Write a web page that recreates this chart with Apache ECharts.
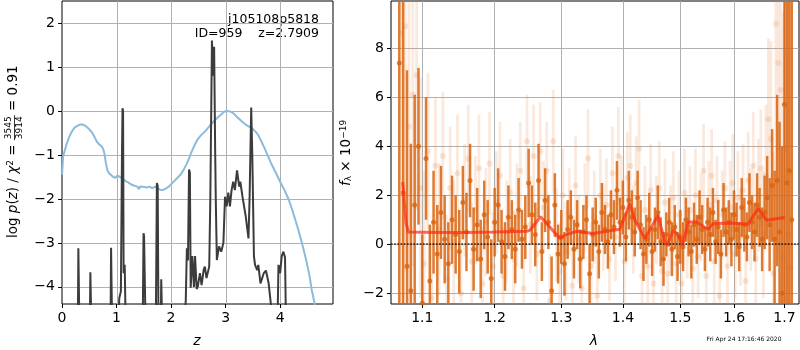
<!DOCTYPE html>
<html>
<head>
<meta charset="utf-8">
<script src="https://cdn.jsdelivr.net/npm/echarts@6/dist/echarts.min.js"></script>
<style>
  html, body { margin: 0; padding: 0; background: #fff; }
  #chart { width: 800px; height: 350px; }
</style>
</head>
<body>
<div id="chart"></div>
<script>
// ---- left panel: p(z) (blue) and chi2 (dark) ----
const pzZ = [0.0, 0.02, 0.05, 0.09, 0.14, 0.18, 0.23, 0.28, 0.33, 0.37, 0.42, 0.46, 0.51, 0.55, 0.6, 0.64,
  0.69, 0.73, 0.76, 0.78, 0.8, 0.83, 0.86, 0.89, 0.94, 0.98, 1.02, 1.05, 1.1, 1.16, 1.22, 1.28, 1.33, 1.38,
  1.41, 1.43, 1.46, 1.51, 1.56, 1.61, 1.65, 1.68, 1.71, 1.76, 1.8, 1.84, 1.9, 1.96, 2.03, 2.11, 2.18, 2.23,
  2.28, 2.32, 2.37, 2.42, 2.48, 2.55, 2.62, 2.69, 2.75, 2.81, 2.87, 2.93, 2.97, 3.02, 3.08, 3.14, 3.22, 3.3,
  3.39, 3.48, 3.55, 3.6, 3.66, 3.73, 3.79, 3.85, 3.92, 4.0, 4.08, 4.16, 4.22, 4.28, 4.34, 4.4, 4.45, 4.49,
  4.54, 4.58, 4.63, 4.66];
const pzLog = [-1.45, -1.05, -0.9, -0.73, -0.57, -0.47, -0.38, -0.34, -0.31, -0.31, -0.33, -0.37, -0.43, -0.49,
  -0.6, -0.7, -0.77, -0.81, -0.88, -0.98, -1.15, -1.34, -1.41, -1.45, -1.5, -1.52, -1.47, -1.45, -1.53, -1.59,
  -1.63, -1.68, -1.7, -1.72, -1.78, -1.72, -1.7, -1.73, -1.74, -1.72, -1.76, -1.73, -1.72, -1.77, -1.79, -1.8,
  -1.77, -1.72, -1.63, -1.53, -1.44, -1.34, -1.22, -1.11, -0.95, -0.81, -0.66, -0.55, -0.47, -0.37, -0.28,
  -0.2, -0.13, -0.07, -0.02, 0.0, -0.01, -0.05, -0.15, -0.24, -0.33, -0.39, -0.47, -0.55, -0.7, -0.89, -1.06,
  -1.23, -1.4, -1.61, -1.8, -2.02, -2.24, -2.48, -2.73, -3.0, -3.25, -3.46, -3.75, -4.07, -4.36, -4.6];

const chiZ = [0.29, 0.3, 0.312, 0.32, 0.51, 0.52, 0.53, 0.54, 0.89, 0.9, 0.91, 0.92,
  1.03, 1.05, 1.08, 1.1, 1.11, 1.12, 1.13, 1.15, 1.17, 1.48, 1.495, 1.505, 1.52, 1.535,
  1.72, 1.74, 1.755, 1.77, 1.81, 1.82, 1.83, 1.84,
  2.24, 2.27, 2.29, 2.31, 2.33, 2.345, 2.36, 2.39, 2.42, 2.44, 2.47, 2.49, 2.53, 2.56, 2.6, 2.62, 2.65,
  2.7, 2.72, 2.75, 2.77, 2.79, 2.81, 2.82, 2.84, 2.88, 2.92, 2.96, 2.99, 3.02, 3.05, 3.08, 3.11, 3.14,
  3.17, 3.21, 3.25, 3.27, 3.31, 3.35, 3.37, 3.4, 3.42, 3.44, 3.47, 3.49, 3.52, 3.54, 3.58, 3.6, 3.64,
  3.7, 3.74, 3.79, 3.84, 3.86, 3.95, 3.97, 4.0, 4.03, 4.06, 4.09, 4.11];
const chiLog = [-5, -3.12, -3.12, -5, -5, -3.67, -3.67, -5, -5, -3.11, -3.11, -5,
  -5, -4.26, -4.1, -1.0, 0.06, 0.0, -3.69, -3.5, -5, -5, -2.78, -2.85, -3.96, -5,
  -5, -1.64, -1.7, -5, -5, -3.83, -3.85, -5,
  -5, -4.3, -3.12, -3.4, -1.33, -1.4, -4.02, -3.3, -4.0, -3.3, -4.05, -3.99, -3.69, -3.96, -3.6, -3.54, -3.8,
  -3.54, -2.0, 1.6, 0.8, 1.46, -1.0, -2.0, -3.39, -3.08, -3.2, -3.0, -1.95, -2.17, -1.86, -2.17, -1.8, -1.61,
  -1.8, -1.35, -1.72, -1.61, -1.95, -2.25, -2.4, -2.7, -2.9, -2.0, 0.08, -1.0, -3.3, -3.5, -3.62, -3.5, -3.92,
  -3.69, -3.63, -3.92, -4.5, -5, -5, -3.5, -3.69, -3.3, -3.2, -3.33, -5];

const zTicks = [0, 1, 2, 3, 4];
const pzTicks = [-4, -3, -2, -1, 0, 1, 2];

// ---- right panel: spectrum ----
const darkWave = [1.070, 1.075, 1.080, 1.085, 1.090, 1.095, 1.100, 1.105, 1.110, 1.115, 1.120, 1.125, 1.130,
  1.135, 1.140, 1.145, 1.150, 1.155, 1.160, 1.165, 1.170, 1.175, 1.180, 1.185, 1.190, 1.195, 1.200, 1.205,
  1.210, 1.215, 1.220, 1.225, 1.230, 1.235, 1.240, 1.245, 1.250, 1.255, 1.260, 1.265, 1.270, 1.275, 1.280,
  1.285, 1.290, 1.295, 1.300, 1.305, 1.310, 1.315, 1.320, 1.325, 1.330, 1.335, 1.340, 1.345, 1.350, 1.355,
  1.360, 1.365, 1.370, 1.375, 1.380, 1.385, 1.390, 1.395, 1.400, 1.405, 1.410, 1.415, 1.420, 1.425, 1.430,
  1.435, 1.440, 1.445, 1.450, 1.455, 1.460, 1.465, 1.470, 1.475, 1.480, 1.485, 1.490, 1.495, 1.500, 1.505,
  1.510, 1.515, 1.520, 1.525, 1.530, 1.535, 1.540, 1.545, 1.550, 1.555, 1.560, 1.565, 1.570, 1.575, 1.580,
  1.585, 1.590, 1.595, 1.600, 1.605, 1.610, 1.615, 1.620, 1.625, 1.630, 1.635, 1.640, 1.645, 1.650, 1.655,
  1.660, 1.665, 1.670, 1.675, 1.680, 1.685, 1.690, 1.695, 1.700, 1.705, 1.710, 1.715];
const darkFlux = [7.4, 2.1, -0.9, -1.9, 1.6, 4.0, -2.4, 3.5, -1.5, 0.9, -0.4, 1.3, 0.2, -0.8, 1.0, 0.4, -0.3,
  1.7, 0.5, 2.6, -0.2, 0.8, -0.6, 1.2, 0.3, -1.4, 0.9, 1.6, 0.1, -0.5, 1.1, 0.6, -0.2, 1.4, 0.2, 0.7, 2.5, 1.2,
  0.4, 2.6, -0.3, 1.8, 0.9, -1.9, 1.6, -0.4, 0.3, -0.8, 0.6, 1.1, -0.2, 0.8, -0.6, 0.5, 1.0, -1.2, 0.4, 0.9,
  -0.3, 1.3, 0.6, 0.1, 1.2, 0.7, 2.2, 0.9, 1.5, 0.3, 1.8, 1.1, 0.5, 1.9, 0.8, -0.4, 0.2, 1.0, -0.3, 0.6, 1.3,
  0.1, -0.6, 0.4, 0.9, -0.2, 0.7, -0.5, 0.3, -0.1, 1.0, 0.5, -0.3, 0.8, 0.2, 1.1, 0.6, -0.2, 0.9, 0.4, 1.3,
  0.1, 0.7, -0.4, 1.4, 0.5, 0.9, 0.2, 1.2, 0.6, -0.1, 1.5, 0.8, 0.3, 1.7, 0.9, 0.5, 1.6, 1.1, 0.2, 1.3, 1.9,
  0.8, 2.4, 0.2, 2.6, 0.5, -2.0, 5.7, 2.5, 3.0, 1.0];
const darkErr = [12, 10, 8, 6, 4.5, 3.2, 2.8, 2.5, 2.3, 2.1, 2.0, 1.9, 1.8, 1.7, 1.8, 1.6, 1.7, 1.5, 1.6, 1.5,
  1.7, 1.5, 1.6, 1.4, 1.5, 1.6, 1.4, 1.5, 1.3, 1.4, 1.3, 1.2, 1.4, 1.3, 1.2, 1.3, 1.4, 1.2, 1.3, 1.5, 1.2, 1.3,
  1.1, 1.4, 1.3, 1.2, 1.1, 1.3, 1.2, 1.1, 1.2, 1.0, 1.2, 1.1, 1.0, 1.2, 1.1, 1.0, 1.1, 1.2, 1.0, 1.1, 1.0, 1.1,
  1.2, 1.0, 1.1, 1.0, 1.2, 1.1, 1.0, 1.1, 1.0, 1.1, 1.0, 1.1, 1.0, 0.9, 1.1, 1.0, 1.1, 0.9, 1.0, 1.1, 0.9, 1.0,
  1.1, 1.0, 0.9, 1.0, 1.1, 0.9, 1.0, 1.1, 1.0, 0.9, 1.0, 1.1, 1.0, 0.9, 1.1, 1.0, 1.1, 1.0, 0.9, 1.1, 1.0, 1.1,
  1.0, 1.2, 1.1, 1.0, 1.2, 1.1, 1.2, 1.3, 1.2, 1.3, 1.5, 1.7, 1.9, 2.3, 2.8, 3.5, 4.5, 6, 9, 12, 14, 14];

const lightWave = [1.0725, 1.0775, 1.0825, 1.0875, 1.0925, 1.0975, 1.1025, 1.1075, 1.1125, 1.1175, 1.1225,
  1.1275, 1.1325, 1.1375, 1.1425, 1.1475, 1.1525, 1.1575, 1.1625, 1.1675, 1.1725, 1.1775, 1.1825, 1.1875,
  1.1925, 1.1975, 1.2025, 1.2075, 1.2125, 1.2175, 1.2225, 1.2275, 1.2325, 1.2375, 1.2425, 1.2475, 1.2525,
  1.2575, 1.2625, 1.2675, 1.2725, 1.2775, 1.2825, 1.2875, 1.2925, 1.2975, 1.3025, 1.3075, 1.3125, 1.3175,
  1.3225, 1.3275, 1.3325, 1.3375, 1.3425, 1.3475, 1.3525, 1.3575, 1.3625, 1.3675, 1.3725, 1.3775, 1.3825,
  1.3875, 1.3925, 1.3975, 1.4025, 1.4075, 1.4125, 1.4175, 1.4225, 1.4275, 1.4325, 1.4375, 1.4425, 1.4475,
  1.4525, 1.4575, 1.4625, 1.4675, 1.4725, 1.4775, 1.4825, 1.4875, 1.4925, 1.4975, 1.5025, 1.5075, 1.5125,
  1.5175, 1.5225, 1.5275, 1.5325, 1.5375, 1.5425, 1.5475, 1.5525, 1.5575, 1.5625, 1.5675, 1.5725, 1.5775,
  1.5825, 1.5875, 1.5925, 1.5975, 1.6025, 1.6075, 1.6125, 1.6175, 1.6225, 1.6275, 1.6325, 1.6375, 1.6425,
  1.6475, 1.6525, 1.6575, 1.6625, 1.6675, 1.6725, 1.6775, 1.6825, 1.6875, 1.6925, 1.6975, 1.7025, 1.7075,
  1.7125];
const lightFlux = [8.6, 8.9, 4.8, 6.1, 6.9, 2.3, -0.8, 3.8, -2.2, 3.2, 0.6, 3.6, -1.4, 2.3, 0.1, 2.9, -2.0, 1.8,
  3.5, -0.7, 1.4, 3.1, -1.6, 0.9, 3.3, -0.9, 1.7, 2.8, -1.3, 0.5, 2.1, -0.6, 1.2, 3.0, -1.8, 4.2, 0.8, 3.6,
  -0.4, 3.8, 1.5, 3.0, -2.3, 4.2, 0.4, -1.1, 2.0, -0.3, 1.3, -1.7, 2.4, 0.2, -1.8, 1.5, 3.5, -0.9, 1.1, -2.1,
  2.0, 0.7, 1.6, -0.6, 2.9, 0.3, 3.6, 1.8, -0.7, 2.7, 3.2, 0.6, 2.5, 3.9, -1.3, 1.4, -0.9, 2.2, -1.6, 1.0, 2.3,
  -1.1, 1.7, -1.2, 0.6, 1.9, -0.8, 1.2, -1.6, 2.1, 0.3, 1.4, -1.0, 2.0, -0.5, 1.1, 3.0, -1.3, 1.6, 2.8, -0.7,
  1.8, -2.1, 1.2, 2.3, -0.9, 1.5, 2.5, -0.4, 1.9, 0.3, 2.2, -1.5, 2.6, 1.0, 3.2, -0.6, 2.0, 3.1, 0.4, 2.8, 5.1,
  4.3, -1.2, 9.0, 7.4, 6.3, -0.5, 3.9, 0.4, -1.0];
const lightErr = [11, 10, 8, 7, 5.5, 4.5, 3.8, 3.2, 3.0, 2.8, 2.7, 2.6, 2.6, 2.5, 2.5, 2.4, 2.5, 2.3, 2.2, 2.4,
  2.2, 2.2, 2.3, 2.2, 2.1, 2.2, 2.1, 2.2, 2.0, 2.1, 2.2, 2.0, 2.1, 2.0, 2.1, 1.9, 2.0, 2.1, 1.9, 2.0, 1.9, 2.0,
  1.9, 2.1, 1.9, 2.0, 1.9, 2.0, 1.8, 1.9, 2.0, 1.8, 1.9, 1.8, 2.0, 1.8, 1.9, 1.7, 1.9, 1.8, 1.9, 1.7, 1.9, 1.8,
  2.0, 1.8, 1.7, 1.9, 2.1, 1.8, 1.9, 2.0, 1.7, 1.8, 1.7, 1.9, 1.7, 1.8, 1.9, 1.7, 1.8, 1.7, 1.8, 1.9, 1.7, 1.8,
  1.7, 1.8, 1.7, 1.8, 1.7, 1.9, 1.7, 1.8, 1.9, 1.7, 1.8, 1.9, 1.7, 1.8, 1.9, 1.8, 1.9, 1.8, 1.9, 2.0, 1.8, 1.9,
  2.0, 1.9, 2.1, 2.0, 2.1, 2.2, 2.1, 2.3, 2.4, 2.6, 2.9, 3.3, 4.0, 5.0, 6.5, 8, 9, 10, 11, 12, 12];

const modelWave = [1.0744, 1.0787, 1.0817, 1.12, 1.16, 1.2, 1.247, 1.2519, 1.2681, 1.2979, 1.3057, 1.3242,
  1.3508, 1.3837, 1.3949, 1.4117, 1.4202, 1.4374, 1.4605, 1.4722, 1.4764, 1.4871, 1.4961, 1.504, 1.5141,
  1.5295, 1.5509, 1.5601, 1.5919, 1.6273, 1.6469, 1.6636, 1.7006];
const modelFlux = [2.54, 0.87, 0.5, 0.48, 0.48, 0.5, 0.53, 0.57, 1.12, 0.23, 0.37, 0.53, 0.44, 0.57, 0.61,
  1.66, 0.98, 0.23, 1.18, 0.1, -0.04, 0.57, 0.37, -0.04, 0.91, 0.91, 0.61, 0.84, 0.87, 0.82, 1.46, 0.98, 1.09];

const waveTicks = [1.1, 1.2, 1.3, 1.4, 1.5, 1.6, 1.7];
const fluxTicks = [-2, 0, 2, 4, 6, 8];

const FONT = "DejaVu Sans";
const TICK_SIZE = 14;
const GRID_GRAY = "#b0b0b0";
const fmtMinus = (v) => String(v).replace("-", "\u2212");

// wavelength axis is logarithmic in the original: plot ln(lambda)
const lnTicks = waveTicks.map(Math.log);
const lnMin = Math.log(1.0594);
const lnMax = Math.log(1.730);
const pzMin = -4.39;
const pzMax = 2.5;

function axis(gridIndex, min, max, ticks, fmt, splitShow = true) {
  return {
    type: "value",
    gridIndex,
    min,
    max,
    axisLine: { show: false, onZero: false },
    axisTick: {
      show: true,
      length: 4,
      customValues: ticks,
      lineStyle: { color: "#000", width: 1 },
    },
    axisLabel: {
      customValues: ticks,
      formatter: fmt,
      color: "#000",
      fontFamily: FONT,
      fontSize: TICK_SIZE,
      margin: 7,
    },
    splitLine: { show: splitShow, lineStyle: { color: GRID_GRAY, width: 1 } },
  };
}

// one small series per vertical grid line of the left panel
function zGridLine(v) {
  return {
    type: "custom",
    xAxisIndex: 0,
    yAxisIndex: 0,
    z: 20,
    silent: true,
    data: [[v, 0]],
    encode: { x: 0, y: 1 },
    renderItem(params, api) {
      const top = api.coord([api.value(0), pzMax]);
      const bot = api.coord([api.value(0), pzMin]);
      const x = Math.round(top[0]) + 0.5;
      return {
        type: "line",
        shape: { x1: x, y1: top[1], x2: x, y2: bot[1] },
        style: { stroke: GRID_GRAY, lineWidth: 1 },
      };
    },
  };
}

function errorBars(wave, flux, err, color, width, z) {
  return {
    type: "custom",
    xAxisIndex: 1,
    yAxisIndex: 1,
    z,
    clip: true,
    silent: true,
    data: wave.map((w, i) => [Math.log(w), flux[i] - err[i], flux[i] + err[i]]),
    encode: { x: 0, y: [1, 2] },
    renderItem(params, api) {
      const lo = api.coord([api.value(0), api.value(1)]);
      const hi = api.coord([api.value(0), api.value(2)]);
      return {
        type: "line",
        shape: { x1: lo[0], y1: lo[1], x2: hi[0], y2: hi[1] },
        style: { stroke: color, lineWidth: width },
      };
    },
  };
}

function points(wave, flux, color, size, z) {
  return {
    type: "scatter",
    xAxisIndex: 1,
    yAxisIndex: 1,
    z,
    silent: true,
    symbolSize: size,
    itemStyle: { color },
    data: wave.map((w, i) => [Math.log(w), flux[i]]),
  };
}

// measure text so the rotated y label pieces line up
const ctx = document.createElement("canvas").getContext("2d");
function textWidth(s, size, italic) {
  ctx.font = (italic ? "italic " : "") + size + "px '" + FONT + "'";
  return ctx.measureText(s).width;
}
const LBL = 13.5;
const SMALL = 9;
const part1W = textWidth("log ", LBL) + textWidth("p", LBL, true) + textWidth("(", LBL) +
  textWidth("z", LBL, true) + textWidth(") / ", LBL) + textWidth("\u03c7", LBL, true) +
  textWidth("2", SMALL) + textWidth(" = ", LBL);
const fracW = textWidth("3545", SMALL) + 2;

const richBase = {
  i: { fontFamily: FONT, fontSize: LBL, fontStyle: "italic", fill: "#000" },
  n: { fontFamily: FONT, fontSize: LBL, fill: "#000" },
  sup: { fontFamily: FONT, fontSize: SMALL, verticalAlign: "top", fill: "#000" },
  sub: { fontFamily: FONT, fontSize: SMALL, verticalAlign: "bottom", fill: "#000" },
};

const texts = [
  {
    type: "text", x: 319, y: 20,
    style: { text: "j105108p5818", align: "right", verticalAlign: "middle", fontFamily: FONT, fontSize: 12.5, fill: "#000" },
  },
  {
    type: "text", x: 319, y: 34,
    style: { text: "ID=959    z=2.7909", align: "right", verticalAlign: "middle", fontFamily: FONT, fontSize: 12.5, fill: "#000" },
  },
  {
    type: "text", x: 197, y: 341,
    style: { text: "z", align: "center", verticalAlign: "middle", fontFamily: FONT, fontStyle: "italic", fontSize: 14, fill: "#000" },
  },
  {
    type: "text", x: 594, y: 341,
    style: { text: "\u03bb", align: "center", verticalAlign: "middle", fontFamily: FONT, fontStyle: "italic", fontSize: 14, fill: "#000" },
  },
  {
    type: "text", x: 744, y: 339,
    style: { text: "Fri Apr 24 17:16:46 2020", align: "center", verticalAlign: "middle", fontFamily: FONT, fontSize: 6, fill: "#000" },
  },
  {
    type: "group", x: 13, y: 238, rotation: Math.PI / 2,
    children: [
      {
        type: "text", x: 0, y: 0,
        style: {
          text: "{n|log }{i|p}{n|(}{i|z}{n|) / }{i|\u03c7}{sup|2}{n| = }",
          align: "left", verticalAlign: "middle", rich: richBase,
        },
      },
      {
        type: "text", x: part1W + fracW / 2, y: -4,
        style: { text: "3545", align: "center", verticalAlign: "middle", fontFamily: FONT, fontSize: SMALL, fill: "#000" },
      },
      {
        type: "line",
        shape: { x1: part1W, y1: 1.5, x2: part1W + fracW, y2: 1.5 },
        style: { stroke: "#000", lineWidth: 0.8 },
      },
      {
        type: "text", x: part1W + fracW / 2, y: 7,
        style: { text: "3914", align: "center", verticalAlign: "middle", fontFamily: FONT, fontSize: SMALL, fill: "#000" },
      },
      {
        type: "text", x: part1W + fracW, y: 0,
        style: { text: " = 0.91", align: "left", verticalAlign: "middle", fontFamily: FONT, fontSize: LBL, fill: "#000" },
      },
    ],
  },
  {
    type: "group", x: 346, y: 186, rotation: Math.PI / 2,
    children: [
      {
        type: "text", x: 0, y: 0,
        style: {
          text: "{i|f}{sub|\u03bb}{n| \u00d7 10}{sup|\u221219}",
          align: "left", verticalAlign: "middle", rich: richBase,
        },
      },
    ],
  },
];

const chart = echarts.init(document.getElementById("chart"));

chart.setOption({
  animation: false,
  textStyle: { fontFamily: FONT },
  grid: [
    { left: 62, top: 1, width: 271, height: 303, show: true, borderColor: "#000", borderWidth: 1 },
    { left: 391, top: 1, width: 408, height: 303, show: true, borderColor: "#000", borderWidth: 1 },
  ],
  xAxis: [
    axis(0, 0, 4.97, zTicks, (v) => fmtMinus(v), false),
    axis(1, lnMin, lnMax, lnTicks, (v) => Math.exp(v).toFixed(1)),
  ],
  yAxis: [
    axis(0, pzMin, pzMax, pzTicks, (v) => fmtMinus(v)),
    axis(1, -2.44, 9.93, fluxTicks, (v) => fmtMinus(v)),
  ],
  series: [
    ...zTicks.slice(1).map(zGridLine),
    {
      type: "line",
      xAxisIndex: 0,
      yAxisIndex: 0,
      data: pzZ.map((z, i) => [z, pzLog[i]]),
      showSymbol: false,
      clip: true,
      lineStyle: { color: "#8cbadb", width: 2 },
      z: 21,
    },
    {
      type: "line",
      xAxisIndex: 0,
      yAxisIndex: 0,
      data: chiZ.map((z, i) => [z, chiLog[i]]),
      showSymbol: false,
      clip: true,
      lineStyle: { color: "#3c3c3c", width: 2 },
      z: 22,
    },
    errorBars(lightWave, lightFlux, lightErr, "rgba(232,140,75,0.19)", 2.8, 1),
    points(lightWave, lightFlux, "rgba(222,120,50,0.22)", 6, 2),
    errorBars(darkWave, darkFlux, darkErr, "rgba(217,100,15,0.85)", 2.5, 3),
    points(darkWave, darkFlux, "#d9640f", 5, 4),
    {
      type: "line",
      xAxisIndex: 1,
      yAxisIndex: 1,
      data: modelWave.map((w, i) => [Math.log(w), modelFlux[i]]),
      showSymbol: false,
      clip: true,
      lineStyle: { color: "#ff2a10", width: 3, opacity: 0.7 },
      z: 5,
      markLine: {
        silent: true,
        symbol: "none",
        label: { show: false },
        lineStyle: { color: "#000", type: "dotted", width: 1.6, opacity: 0.85 },
        data: [{ yAxis: 0 }],
      },
    },
  ],
  graphic: texts,
});
</script>
</body>
</html>
